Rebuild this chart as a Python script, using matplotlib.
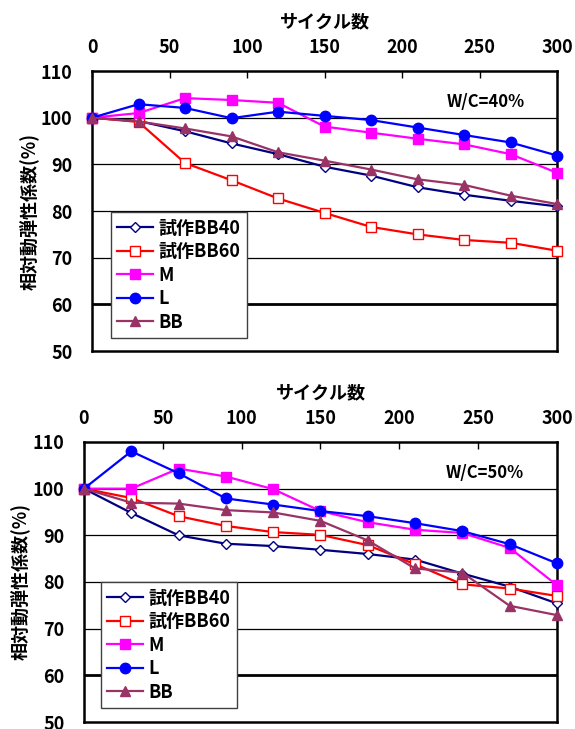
import numpy as np
import matplotlib.pyplot as plt

plt.rcParams['font.family'] = ['Noto Sans CJK JP', 'DejaVu Sans']
plt.rcParams['font.weight'] = 'bold'

cycles = [0, 30, 60, 90, 120, 150, 180, 210, 240, 270, 300]
labels = ['試作BB40', '試作BB60', 'M', 'L', 'BB']

# W/C=40%
bb40_40 = [100, 99.3, 97.1, 94.5, 92.2, 89.5, 87.6, 85.1, 83.5, 82.2, 81.0]
bb60_40 = [100, 99.1, 90.3, 86.6, 82.7, 79.6, 76.6, 75.0, 73.8, 73.2, 71.5]
m_40 = [100, 101.0, 104.2, 103.8, 103.2, 98.1, 96.8, 95.5, 94.3, 92.2, 88.2]
l_40 = [100, 102.9, 102.1, 99.9, 101.3, 100.4, 99.5, 97.9, 96.3, 94.7, 91.9]
bb_40 = [100, 99.2, 97.7, 96.0, 92.6, 90.8, 88.9, 86.8, 85.6, 83.3, 81.5]

# W/C=50%
bb40_50 = [100, 94.8, 90.0, 88.2, 87.7, 86.9, 86.0, 84.8, 81.8, 79.0, 75.4]
bb60_50 = [100, 98.0, 94.1, 92.0, 90.7, 90.1, 87.9, 83.8, 79.5, 78.6, 77.0]
m_50 = [100, 100, 104.3, 102.6, 99.9, 95.2, 92.8, 91.2, 90.5, 87.3, 79.3]
l_50 = [100, 108.0, 103.3, 97.9, 96.6, 95.2, 94.1, 92.6, 90.9, 88.1, 84.0]
bb_50 = [100, 97.0, 96.8, 95.4, 94.9, 93.1, 88.9, 82.9, 82.0, 74.9, 72.9]

styles = [
    dict(color='#000080', marker='D', mfc='white', mec='#000080', ms=5),
    dict(color='#FF0000', marker='s', mfc='white', mec='#FF0000', ms=7.5),
    dict(color='#FF00FF', marker='s', mfc='#FF00FF', mec='#FF00FF', ms=7.5),
    dict(color='#0000FF', marker='o', mfc='#0000FF', mec='#0000FF', ms=7.5),
    dict(color='#993366', marker='^', mfc='#993366', mec='#993366', ms=7.5),
]

fig = plt.figure(figsize=(5.75, 7.29), dpi=100)
ax1 = fig.add_axes([0.160, 0.5185, 0.8087, 0.384])
ax2 = fig.add_axes([0.146, 0.0096, 0.8227, 0.3841])


def draw(ax, series, wc, leg_anchor):
    for vals, lab, st in zip(series, labels, styles):
        ax.plot(cycles, vals, lw=1.6, label=lab, clip_on=False, zorder=3, **st)
    ax.set_xlim(0, 300)
    ax.set_ylim(50, 110)
    ax.set_xticks(np.arange(0, 301, 50))
    ax.set_yticks(np.arange(50, 111, 10))
    ax.xaxis.tick_top()
    ax.xaxis.set_label_position('top')
    ax.tick_params(axis='x', direction='in', length=5, width=1, pad=10, labelsize=13)
    ax.tick_params(axis='y', length=0, pad=14, labelsize=13)
    for y in [60, 70, 80, 90, 100]:
        ax.axhline(y, color='black', lw=2.0 if y == 60 else 0.9, zorder=0)
    for s in ax.spines.values():
        s.set_linewidth(1.8)
    ax.set_xlabel('サイクル数', fontsize=13, fontweight='bold', labelpad=8)
    ax.set_ylabel('相対動弾性係数(%)', fontsize=13, fontweight='bold')
    ax.yaxis.set_label_coords(-0.115, 0.5)
    ax.text(254, 103.3, wc, fontsize=12, fontweight='bold', ha='center', va='center')
    leg = ax.legend(loc='lower left', bbox_to_anchor=leg_anchor, borderaxespad=0,
                    fancybox=False, framealpha=1, edgecolor='#404040', fontsize=13,
                    handlelength=2.0, borderpad=0.35, labelspacing=0.25,
                    handletextpad=0.3)
    leg.get_frame().set_linewidth(1.0)
    leg.set_zorder(5)
    for t in leg.get_texts():
        t.set_fontweight('bold')


draw(ax1, [bb40_40, bb60_40, m_40, l_40, bb_40], 'W/C=40%', (0.04, 0.047))
draw(ax2, [bb40_50, bb60_50, m_50, l_50, bb_50], 'W/C=50%', (0.035, 0.05))

fig.savefig('out.png', dpi=100)
